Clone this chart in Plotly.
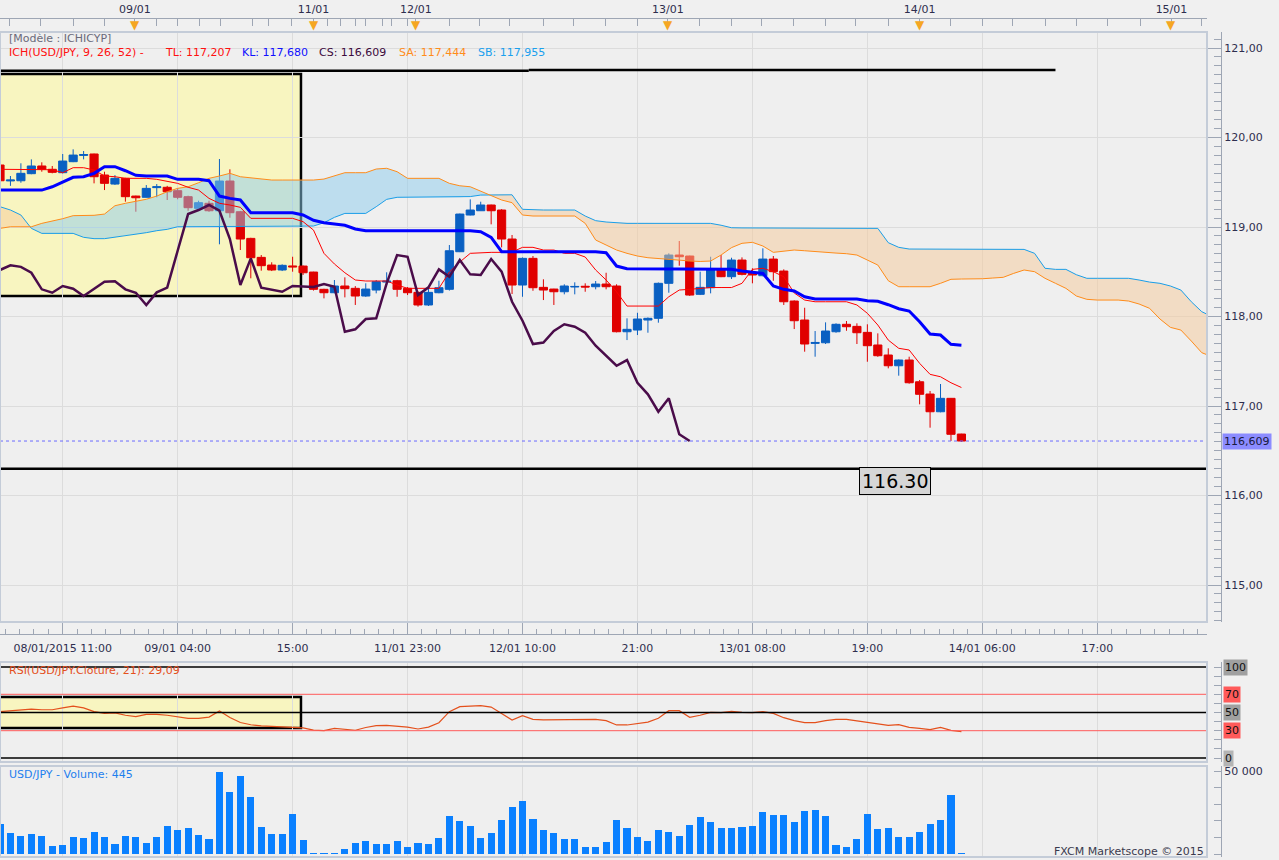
"""plot.py - USD/JPY hourly Ichimoku chart with RSI and volume panes."""
import plotly.graph_objects as go

# ---- hourly bars (index 0 = first visible bar) ----
open_ = [119.693, 119.515, 119.517, 119.596, 119.682, 119.645, 119.607, 119.730, 119.800, 119.816,
         119.581, 119.480, 119.544, 119.346, 119.332, 119.440, 119.444, 119.406, 119.339, 119.209,
         119.265, 119.182, 119.514, 119.171, 118.873, 118.661, 118.575, 118.520, 118.565, 118.564,
         118.497, 118.304, 118.266, 118.341, 118.315, 118.229, 118.296, 118.385, 118.400, 118.315,
         118.270, 118.129, 118.266, 118.304, 118.724, 119.134, 119.182, 119.246, 119.190, 118.866,
         118.352, 118.650, 118.326, 118.307, 118.277, 118.330, 118.338, 118.333, 118.363, 118.341,
         117.830, 117.849, 117.961, 117.980, 118.371, 118.687, 118.676, 118.248, 118.322, 118.531,
         118.445, 118.631, 118.489, 118.456, 118.642, 118.508, 118.173, 117.961, 117.700, 117.707,
         117.830, 117.913, 117.890, 117.823, 117.682, 117.570, 117.450, 117.514, 117.271, 117.134,
         116.936, 117.086, 116.687]
high = [119.710, 119.570, 119.712, 119.756, 119.723, 119.682, 119.816, 119.868, 119.849, 119.820,
        119.618, 119.580, 119.550, 119.350, 119.469, 119.480, 119.460, 119.430, 119.350, 119.294,
        119.294, 119.760, 119.645, 119.180, 118.880, 118.687, 118.606, 118.583, 118.668, 118.570,
        118.500, 118.310, 118.408, 118.438, 118.340, 118.371, 118.408, 118.494, 118.410, 118.330,
        118.280, 118.315, 118.400, 118.799, 119.150, 119.309, 119.283, 119.250, 119.200, 118.911,
        118.660, 118.676, 118.416, 118.310, 118.360, 118.382, 118.371, 118.397, 118.489, 118.360,
        117.980, 118.042, 117.990, 118.380, 118.706, 118.844, 118.680, 118.501, 118.668, 118.687,
        118.657, 118.661, 118.539, 118.762, 118.676, 118.527, 118.180, 118.098, 117.838, 117.935,
        117.924, 117.950, 117.924, 117.913, 117.812, 117.645, 117.520, 117.551, 117.291, 117.168,
        117.246, 117.090, 116.690]
low = [119.500, 119.460, 119.495, 119.590, 119.618, 119.600, 119.600, 119.725, 119.756, 119.488,
       119.413, 119.470, 119.283, 119.171, 119.330, 119.332, 119.302, 119.310, 119.182, 119.182,
       119.170, 118.807, 119.104, 118.743, 118.427, 118.512, 118.508, 118.508, 118.501, 118.464,
       118.290, 118.203, 118.260, 118.214, 118.129, 118.220, 118.259, 118.352, 118.221, 118.240,
       118.110, 118.118, 118.260, 118.290, 118.720, 119.130, 119.180, 119.030, 118.773, 118.251,
       118.221, 118.288, 118.184, 118.129, 118.248, 118.248, 118.277, 118.304, 118.304, 117.823,
       117.737, 117.793, 117.819, 117.931, 118.266, 118.568, 118.230, 118.240, 118.259, 118.440,
       118.419, 118.460, 118.371, 118.450, 118.400, 118.129, 117.860, 117.607, 117.551, 117.693,
       117.819, 117.841, 117.693, 117.495, 117.550, 117.421, 117.339, 117.250, 117.019, 116.758,
       116.930, 116.609, 116.600]
close = [119.517, 119.525, 119.600, 119.682, 119.645, 119.611, 119.737, 119.804, 119.810, 119.562,
         119.488, 119.544, 119.339, 119.327, 119.432, 119.450, 119.394, 119.332, 119.216, 119.272,
         119.182, 119.514, 119.160, 118.866, 118.657, 118.568, 118.520, 118.572, 118.555, 118.489,
         118.304, 118.266, 118.341, 118.311, 118.229, 118.307, 118.389, 118.395, 118.304, 118.266,
         118.129, 118.270, 118.322, 118.735, 119.145, 119.190, 119.246, 119.182, 118.866, 118.352,
         118.650, 118.322, 118.296, 118.277, 118.341, 118.336, 118.330, 118.363, 118.333, 117.830,
         117.857, 117.972, 117.980, 118.371, 118.687, 118.668, 118.240, 118.326, 118.527, 118.445,
         118.631, 118.471, 118.464, 118.642, 118.501, 118.165, 117.953, 117.693, 117.710, 117.838,
         117.913, 117.886, 117.819, 117.674, 117.562, 117.450, 117.514, 117.260, 117.131, 116.936,
         117.086, 116.684, 116.609]

volume = [18070, 12650, 10840, 12050, 10840, 4820, 5420, 10240, 9640, 13250,
          10240, 6020, 10840, 10240, 6630, 10240, 16870, 14460, 15660, 11450,
          9040, 49400, 37350, 46990, 34340, 16270, 12050, 12050, 24100, 8430,
          400, 600, 600, 3010, 6630, 7830, 6020, 6020, 7830, 4220,
          6630, 6020, 9640, 22890, 19880, 16870, 9640, 12650, 20480, 28310,
          31930, 21080, 14460, 12650, 9040, 9040, 4220, 4220, 7230, 20480,
          15660, 10240, 7830, 14460, 13250, 10840, 17470, 22290, 19280, 15660,
          15660, 16270, 16870, 25300, 23490, 23490, 19280, 25900, 26510, 22890,
          5420, 4220, 9040, 24100, 15060, 15660, 10240, 10240, 13250, 18070,
          20480, 35540, 445]

rsi = [50.9, 52, 53, 53.8, 53, 53, 55, 57, 55, 51,
       49, 49.5, 47, 45.4, 48, 48, 47, 45, 43.6, 43.5,
       45, 51.6, 44.5, 39, 36.5, 35.2, 34.8, 34.4, 34, 33,
       30.6, 30, 32.6, 31.5, 30.5, 33.5, 35.5, 35.9, 35, 34,
       31.9, 34, 38.8, 50.9, 56.4, 57, 57.5, 56, 49, 41.8,
       46.5, 42.5, 42, 42, 42, 42.5, 42.8, 42.5, 41, 36.3,
       36.3, 37.5, 39.5, 43.6, 52, 52, 44.7, 47, 50.2, 49.8,
       51.3, 50.2, 49.8, 50.9, 49, 44.3, 41, 38.8, 38.8, 41,
       42.5, 42.5, 41, 39.2, 37.4, 35.9, 36.6, 33.7, 32.6, 31.1,
       33.7, 30.4, 29.09]

# ---- Ichimoku lines (9, 26, 52) ----
tenkan = [119.645, 119.645, 119.645, 119.645, 119.645, 119.640, 119.607, 119.663, 119.663, 119.637,
          119.570, 119.562, 119.544, 119.544, 119.544, 119.533, 119.511, 119.488, 119.444, 119.413,
          119.320, 119.265, 119.246, 119.220, 119.097, 119.097, 119.097, 119.097, 119.097, 119.060,
          118.966, 118.706, 118.587, 118.489, 118.408, 118.397, 118.397, 118.397, 118.352, 118.315,
          118.315, 118.315, 118.315, 118.497, 118.609, 118.706, 118.713, 118.717, 118.717, 118.720,
          118.773, 118.773, 118.743, 118.743, 118.706, 118.706, 118.665, 118.520, 118.408, 118.277,
          118.117, 118.117, 118.117, 118.117, 118.221, 118.296, 118.304, 118.315, 118.324, 118.324,
          118.324, 118.371, 118.527, 118.539, 118.501, 118.445, 118.263, 118.184, 118.165, 118.165,
          118.165, 118.165, 118.129, 118.036, 117.905, 117.737, 117.645, 117.626, 117.477, 117.354,
          117.327, 117.260, 117.207]
kijun = [119.413, 119.413, 119.413, 119.413, 119.413, 119.450, 119.506, 119.555, 119.562, 119.600,
         119.674, 119.674, 119.629, 119.578, 119.570, 119.570, 119.570, 119.533, 119.533, 119.533,
         119.517, 119.346, 119.320, 119.302, 119.160, 119.160, 119.160, 119.160, 119.160, 119.134,
         119.075, 119.048, 119.034, 119.019, 118.978, 118.959, 118.959, 118.959, 118.959, 118.959,
         118.959, 118.959, 118.959, 118.959, 118.959, 118.959, 118.948, 118.885, 118.724, 118.724,
         118.724, 118.724, 118.724, 118.724, 118.724, 118.724, 118.724, 118.724, 118.713, 118.564,
         118.534, 118.534, 118.534, 118.534, 118.534, 118.534, 118.534, 118.534, 118.534, 118.534,
         118.527, 118.508, 118.497, 118.482, 118.341, 118.304, 118.285, 118.221, 118.196, 118.196,
         118.196, 118.196, 118.196, 118.177, 118.170, 118.132, 118.087, 118.061, 117.942, 117.804,
         117.793, 117.689, 117.680]
# senkou spans, already drawn 26 bars ahead
senkou_a = [118.985, 119.003, 119.003, 119.003, 119.041, 119.063, 119.093, 119.127, 119.131, 119.131,
            119.145, 119.238, 119.265, 119.291, 119.310, 119.346, 119.394, 119.432, 119.450, 119.495,
            119.544, 119.570, 119.600, 119.562, 119.550, 119.536, 119.525, 119.525, 119.525, 119.525,
            119.525, 119.536, 119.573, 119.607, 119.607, 119.607, 119.648, 119.656, 119.618, 119.544,
            119.544, 119.544, 119.544, 119.488, 119.461, 119.450, 119.400, 119.350, 119.302, 119.272,
            119.134, 119.123, 119.123, 119.123, 119.123, 119.123, 119.041, 118.855, 118.799, 118.743,
            118.706, 118.676, 118.657, 118.650, 118.640, 118.630, 118.620, 118.615, 118.620, 118.687,
            118.770, 118.818, 118.829, 118.788, 118.717, 118.732, 118.743, 118.735, 118.724, 118.717,
            118.709, 118.702, 118.687, 118.631, 118.575, 118.400, 118.333, 118.333, 118.333, 118.333,
            118.371, 118.416, 118.419, 118.419, 118.422, 118.430, 118.438, 118.482, 118.520, 118.501,
            118.427, 118.371, 118.315, 118.229, 118.192, 118.184, 118.184, 118.184, 118.173, 118.140,
            118.092, 117.972, 117.879, 117.849, 117.726, 117.596, 117.550]
senkou_b = [119.227, 119.190, 119.134, 118.985, 118.929, 118.929, 118.929, 118.929, 118.885, 118.870,
            118.870, 118.885, 118.907, 118.918, 118.937, 118.959, 118.974, 119.003, 119.003, 119.003,
            119.003, 119.003, 119.003, 119.011, 119.011, 119.011, 119.011, 119.011, 119.011, 119.011,
            119.011, 119.048, 119.108, 119.152, 119.152, 119.152, 119.227, 119.309, 119.332, 119.332,
            119.332, 119.332, 119.332, 119.332, 119.332, 119.340, 119.357, 119.360, 119.365, 119.360,
            119.198, 119.190, 119.190, 119.190, 119.190, 119.190, 119.123, 119.071, 119.056, 119.048,
            119.041, 119.041, 119.041, 119.041, 119.041, 119.041, 119.041, 119.041, 119.041, 119.020,
            118.992, 118.990, 118.990, 118.990, 118.985, 118.985, 118.985, 118.985, 118.985, 118.985,
            118.985, 118.985, 118.985, 118.985, 118.985, 118.825, 118.773, 118.754, 118.754, 118.754,
            118.754, 118.754, 118.754, 118.754, 118.754, 118.754, 118.754, 118.754, 118.750, 118.706,
            118.539, 118.527, 118.527, 118.467, 118.427, 118.427, 118.427, 118.427, 118.427, 118.408,
            118.385, 118.371, 118.341, 118.296, 118.165, 118.054, 117.998]
chikou_shift = 26

# ---- drawn levels / zones ----
resistance = [120.745, 120.755]      # two pieces of the upper trend line
support = 116.30
last_price = 116.609
zone_price = [118.23, 120.71]
zone_rsi = [33, 67]
zone_end = 28.8                      # bar index where the highlighted zone ends
resistance_ends = [50.6, 101.0]

# ---- axis labels ----
bottom_tick_pos = [6, 17, 28, 39, 50, 61, 72, 83, 94, 105]
bottom_tick_text = ["08/01/2015 11:00", "09/01 04:00", "15:00", "11/01 23:00", "12/01 10:00",
                    "21:00", "13/01 08:00", "19:00", "14/01 06:00", "17:00"]
day_pos = [12.9, 30.0, 39.8, 63.9, 88.0, 112.1]
day_text = ["09/01", "11/01", "12/01", "13/01", "14/01", "15/01"]
top_minor_pos = [0.9, 3.9, 7.0, 10.0, 15.0, 17.0, 19.1, 21.1, 24.2, 25.7, 27.9, 31.3, 32.6,
                 34.0, 35.0, 36.6, 37.5, 39.0, 43.0, 45.9, 48.8, 52.0, 54.9, 57.9, 61.0,
                 66.9, 70.0, 72.9, 75.9, 79.0, 81.9, 85.0, 91.0, 94.0, 96.9, 100.0, 103.0,
                 106.0, 109.1, 115.0]

W, H = 1279, 860
R_MARGIN = 58
PAPER_W = W - R_MARGIN
FONT = "DejaVu Sans"
BG = "#efefef"
GRID = "#dcdcdc"
FRAME = "#c4ccd8"
AXIS = "#9ea6b4"
TXT = "#2e2e4e"
BLUE_C, RED_C = "#0a60c2", "#e00000"


def px_x(px):
    return px / PAPER_W


def px_y(px):
    return 1 - px / H


def cloud_pieces(a, b):
    """split the kumo into same-sign pieces, cutting at the crossings"""
    pieces = []
    xs, ya, yb = [0], [a[0]], [b[0]]
    for i in range(1, len(a)):
        d0, d1 = a[i - 1] - b[i - 1], a[i] - b[i]
        if d0 * d1 < 0:
            t = d0 / (d0 - d1)
            xc = i - 1 + t
            yc = a[i - 1] + t * (a[i] - a[i - 1])
            xs.append(xc); ya.append(yc); yb.append(yc)
            pieces.append((xs, ya, yb, d0 > 0))
            xs, ya, yb = [xc], [yc], [yc]
        xs.append(i); ya.append(a[i]); yb.append(b[i])
    pieces.append((xs, ya, yb, a[-1] - b[-1] > 0))
    return pieces


bar_idx = list(range(len(close)))
span_idx = list(range(len(senkou_a)))
n_chikou = len(close) - chikou_shift

fig = go.Figure()

fig.add_trace(go.Candlestick(
    x=bar_idx, open=open_, high=high, low=low, close=close,
    increasing=dict(line=dict(color=BLUE_C, width=1), fillcolor=BLUE_C),
    decreasing=dict(line=dict(color=RED_C, width=1), fillcolor=RED_C),
    whiskerwidth=0, hoverinfo="skip", showlegend=False, xaxis="x", yaxis="y"))

for xs, ya, yb, bull in cloud_pieces(senkou_a, senkou_b):
    fig.add_trace(go.Scatter(
        x=xs + xs[::-1], y=ya + yb[::-1], fill="toself", mode="lines",
        line=dict(width=0),
        fillcolor="rgba(139,203,237,0.5)" if bull else "rgba(245,201,153,0.5)",
        hoverinfo="skip", showlegend=False, xaxis="x", yaxis="y"))

fig.add_trace(go.Scatter(x=span_idx, y=senkou_b, mode="lines",
                         line=dict(color="#1a9ee8", width=1), showlegend=False))
fig.add_trace(go.Scatter(x=span_idx, y=senkou_a, mode="lines",
                         line=dict(color="#ff8c1a", width=1), showlegend=False))
fig.add_trace(go.Scatter(x=bar_idx, y=tenkan, mode="lines",
                         line=dict(color="#ff0000", width=1), showlegend=False))
fig.add_trace(go.Scatter(x=bar_idx[:n_chikou], y=close[chikou_shift:], mode="lines",
                         line=dict(color="#4a0c4a", width=2.5), showlegend=False))
fig.add_trace(go.Scatter(x=bar_idx, y=kijun, mode="lines",
                         line=dict(color="#0000ff", width=3), showlegend=False))

# RSI pane
fig.add_trace(go.Scatter(x=bar_idx, y=rsi, mode="lines", line=dict(color="#e4501c", width=1.2),
                         showlegend=False, xaxis="x2", yaxis="y2"))
# Volume pane
fig.add_trace(go.Bar(x=bar_idx, y=volume, width=0.68, marker=dict(color="#0a80ff", line=dict(width=0)),
                     showlegend=False, xaxis="x3", yaxis="y3"))
# carrier for the date strip on top
fig.add_trace(go.Scatter(x=[0], y=[None], mode="markers", showlegend=False, hoverinfo="skip",
                         xaxis="x4", yaxis="y"))

shapes = []
# highlighted zone (price + rsi)
shapes.append(dict(type="rect", xref="x", yref="y", x0=-1, x1=zone_end, y0=zone_price[0], y1=zone_price[1],
                   fillcolor="#f8f5c0", line=dict(color="black", width=2.5), layer="below"))
shapes.append(dict(type="rect", xref="x2", yref="y2", x0=-1, x1=zone_end, y0=zone_rsi[0], y1=zone_rsi[1],
                   fillcolor="#f8f5c0", line=dict(color="black", width=2.5), layer="below"))
# trend / support lines
shapes.append(dict(type="line", xref="x", yref="y", x0=0, x1=resistance_ends[0],
                   y0=resistance[0], y1=resistance[0], line=dict(color="black", width=2.5)))
shapes.append(dict(type="line", xref="x", yref="y", x0=resistance_ends[0], x1=resistance_ends[1],
                   y0=resistance[1], y1=resistance[1], line=dict(color="black", width=2.5)))
shapes.append(dict(type="line", xref="x domain", yref="y", x0=0, x1=1, y0=support, y1=support,
                   line=dict(color="black", width=2.5)))
shapes.append(dict(type="line", xref="x domain", yref="y", x0=0, x1=1, y0=last_price, y1=last_price,
                   line=dict(color="#6a6aff", width=1, dash="dot")))
# RSI levels
for lvl, col, wd in [(100, "black", 1.5), (70, "#ff5a5a", 1), (50, "black", 1.5),
                     (30, "#ff5a5a", 1), (0, "black", 1.5)]:
    shapes.append(dict(type="line", xref="x2 domain", yref="y2", x0=0, x1=1, y0=lvl, y1=lvl,
                       line=dict(color=col, width=wd)))
# pane frames
for xr, yr in [("x", "y"), ("x2", "y2"), ("x3", "y3")]:
    shapes.append(dict(type="rect", xref=xr + " domain", yref=yr + " domain", x0=0, x1=1, y0=0, y1=1,
                       line=dict(color=FRAME, width=2)))

annotations = []


def label(x, y, text, color, size=11, xanchor="left", **kw):
    annotations.append(dict(x=x, y=y, text=text, showarrow=False, xanchor=xanchor, yanchor="middle",
                            font=dict(family=FONT, size=size, color=color), **kw))


label(px_x(7), px_y(39), "[Modèle : ICHICYP]", "#6a6a7a", xref="paper", yref="paper")
for px, txt, col in [(7, "ICH(USD/JPY, 9, 26, 52) -", "#ff1010"), (163, "TL: 117,207", "#ff1010"),
                     (240, "KL: 117,680", "#1010ff"), (317, "CS: 116,609", "#3c0a3c"),
                     (397, "SA: 117,444", "#ff8c1a"), (476, "SB: 117,955", "#1aa0ee")]:
    label(px_x(px), px_y(52), txt, col, xref="paper", yref="paper")
label(px_x(7), px_y(670), "RSI(USD/JPY.Cloture, 21): 29,09", "#e4501c", xref="paper", yref="paper")
label(px_x(7), px_y(774), "USD/JPY - Volume: 445", "#1e80ee", xref="paper", yref="paper")
label(px_x(1206), px_y(851), "FXCM Marketscope © 2015", "#3a3a4e", xanchor="right",
      xref="paper", yref="paper")
for p in day_pos:
    label(p, px_y(25), "▼", "#f5a623", size=12, xanchor="center", xref="x", yref="paper")
label(1.0, last_price, "116,609", "#1a1a40", xref="paper", yref="y", xshift=1,
      bgcolor="#8c8cff", borderpad=1)
for lvl, bg in [(100, "#a0a0a0"), (70, "#ff5a5a"), (50, "#a0a0a0"), (30, "#ff5a5a"), (0, "#b4b4b4")]:
    label(1.0, lvl, str(lvl), "#111111", xref="paper", yref="y2", xshift=2, bgcolor=bg, borderpad=1)
label(85.65, 116.168, "116.30", "black", size=19, xanchor="center", xref="x", yref="y",
      bgcolor="#d6d6d6", bordercolor="black", borderwidth=1, borderpad=2)

x_dom = [0, px_x(1207)]
x_common = dict(domain=x_dom, range=[0, 115.5], tickmode="array", tickvals=bottom_tick_pos,
                showgrid=True, gridcolor=GRID, gridwidth=1, zeroline=False)
tickfont = dict(family=FONT, size=11, color=TXT)

fig.update_layout(
    width=W, height=H,
    margin=dict(l=0, r=R_MARGIN, t=0, b=0),
    paper_bgcolor="#f0f0f0", plot_bgcolor=BG,
    font=dict(family=FONT, size=11, color=TXT),
    separators=", ",
    showlegend=False,
    bargap=0,
    boxgap=0.22,
    boxgroupgap=0,
    xaxis=dict(**x_common, ticktext=bottom_tick_text, anchor="free", position=px_y(634), side="bottom",
               ticks="inside", ticklen=12, tickcolor=AXIS, showline=True, linecolor=AXIS,
               tickfont=tickfont, ticklabelstandoff=4, rangeslider=dict(visible=False),
               minor=dict(tickmode="linear", tick0=6, dtick=1.375, ticks="inside", ticklen=5,
                          tickcolor=AXIS, showgrid=False)),
    xaxis2=dict(**x_common, anchor="y2", showticklabels=False, ticks=""),
    xaxis3=dict(**x_common, anchor="y3", showticklabels=False, ticks=""),
    xaxis4=dict(range=[0, 115.5], overlaying="x", side="top", anchor="free", position=px_y(18),
                tickmode="array", tickvals=day_pos, ticktext=day_text, ticks="inside", ticklen=7,
                tickcolor=AXIS, showline=True, linecolor=AXIS, showgrid=False, zeroline=False,
                tickfont=tickfont, ticklabelstandoff=1,
                minor=dict(tickmode="array", tickvals=top_minor_pos, ticks="inside", ticklen=7,
                           tickcolor=AXIS, showgrid=False)),
    yaxis=dict(domain=[px_y(622), px_y(32)], range=[114.587, 121.179], side="right", anchor="free",
               position=1.0, tickmode="linear", tick0=115, dtick=1, tickformat=".2f",
               ticks="inside", ticklen=14, tickcolor=AXIS, showline=True, linecolor=AXIS,
               showgrid=True, gridcolor=GRID, zeroline=False, tickfont=tickfont,
               minor=dict(tickmode="linear", tick0=115, dtick=0.1, ticks="inside", ticklen=7,
                          tickcolor=AXIS, showgrid=False)),
    yaxis2=dict(domain=[px_y(762), px_y(662)], range=[-4.4, 105.5], side="right", anchor="free",
                position=1.0, tickmode="linear", tick0=0, dtick=10, ticks="inside", ticklen=7,
                tickcolor=AXIS, showline=True, linecolor=AXIS, showticklabels=False,
                showgrid=False, zeroline=False),
    yaxis3=dict(domain=[px_y(857), px_y(766)], range=[-1807, 53012], side="right", anchor="free",
                position=1.0, tickmode="array", tickvals=[0, 50000], ticktext=["0", "50 000"],
                ticks="inside", ticklen=7, tickcolor=AXIS, showline=True, linecolor=AXIS,
                showgrid=False, zeroline=False, tickfont=tickfont,
                minor=dict(tickmode="linear", tick0=0, dtick=10000, ticks="inside", ticklen=7,
                           tickcolor=AXIS, showgrid=False)),
    shapes=shapes,
    annotations=annotations,
)

# the page's default body margin would push the chart 8px off the window corner
fig.write_html("out.html", config={"displayModeBar": False},
               post_script="document.body.style.margin='0';")
